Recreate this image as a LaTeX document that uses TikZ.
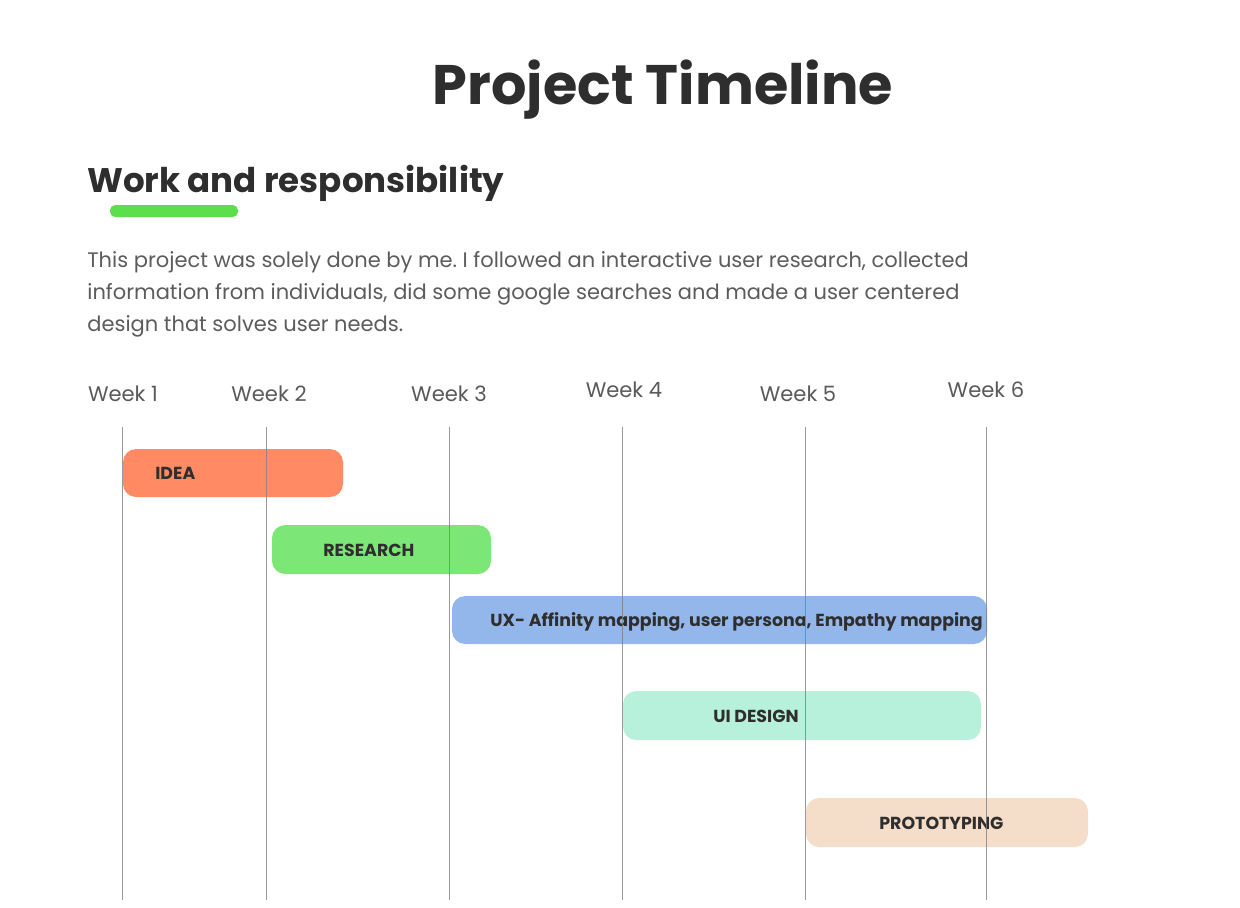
\documentclass[tikz,border=0pt]{standalone}
\usepackage{fontspec}
\setmainfont{Poppins}
\usepackage{tikz}
\usepackage{xcolor}
\frenchspacing

\definecolor{ink}{HTML}{2E2E2E}
\definecolor{weekgray}{HTML}{5A5A5A}
\definecolor{textgray}{HTML}{5C5C5C}
\definecolor{markgreen}{HTML}{5BE04C}
\definecolor{ideacol}{HTML}{FF8A63}
\definecolor{researchcol}{HTML}{7CE676}
\definecolor{uxcol}{HTML}{93B6EB}
\definecolor{uicol}{HTML}{B8F1DB}
\definecolor{protocol}{HTML}{F5DEC9}

\begin{document}
\begin{tikzpicture}[x=0.02cm, y=-0.02cm,
    week/.style={text=weekgray, font=\fontsize{12}{13}\selectfont, inner sep=0pt, anchor=base},
    bartext/.style={text=ink, font=\fontsize{9.9}{11}\selectfont\bfseries, inner sep=0pt, anchor=base west},
    weekline/.style={draw=gray, line width=0.5pt, opacity=0.8}]
    \useasboundingbox[fill=white] (0,0) rectangle (1240,907);

    % Heading
    \node[text=ink, font=\fontsize{31.7}{36}\selectfont\bfseries, inner sep=0pt, anchor=base] (title) at (663,104) {Project Timeline};
    \node[text=ink, font=\fontsize{19.4}{23}\selectfont\bfseries, inner sep=0pt, anchor=base west] (subtitle) at (87,192) {Work and responsibility};
    \fill[markgreen, rounded corners=3pt] (110,205) rectangle (238,217);
    \node[text=textgray, font=\fontsize{11.95}{18.2}\selectfont, inner sep=0pt, anchor=base west, align=left] (intro) at (87,331)
        {This project was solely done by me. I followed an interactive user research, collected\\
         information from individuals, did some google searches and made a user centered\\
         design that solves user needs.};

    % Week labels
    \node[week] (w1) at (123,401) {Week 1};
    \node[week] (w2) at (269,401) {Week 2};
    \node[week] (w3) at (449,401) {Week 3};
    \node[week] (w4) at (624,397) {Week 4};
    \node[week] (w5) at (798,401) {Week 5};
    \node[week] (w6) at (986,397) {Week 6};

    % Bars
    \fill[ideacol, rounded corners=7.5pt] (123,449) rectangle (343,497);
    \fill[researchcol, rounded corners=7.5pt] (272,525) rectangle (491,574);
    \fill[uxcol, rounded corners=7.5pt] (452,596) rectangle (987,644);
    \fill[uicol, rounded corners=7.5pt] (623,691) rectangle (981,740);
    \fill[protocol, rounded corners=7.5pt] (806,798) rectangle (1088,847);
    \node[bartext] (idea) at (155,479) {IDEA};
    \node[bartext] (research) at (323,556) {RESEARCH};
    \node[bartext] (ux) at (490,626) {UX- Affinity mapping, user persona, Empathy mapping};
    \node[bartext] (ui) at (713,722) {UI DESIGN};
    \node[bartext] (proto) at (879,829) {PROTOTYPING};

    % Week lines
    \foreach \x in {122,266,449,622,805,986}
        \draw[weekline] (\x,427) -- (\x,900);

\end{tikzpicture}
\end{document}
